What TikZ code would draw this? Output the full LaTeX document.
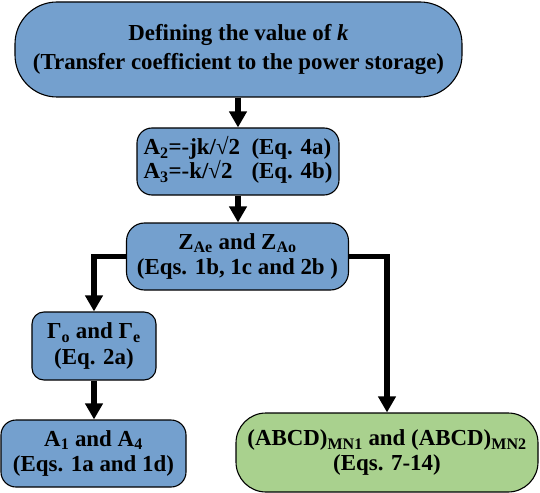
\documentclass[tikz,border=0pt]{standalone}
\usepackage{fontspec}
\setmainfont{Liberation Serif}
\usetikzlibrary{arrows.meta}
\definecolor{boxblue}{RGB}{116,160,206}
\definecolor{boxgreen}{RGB}{169,209,142}
\tikzset{
  box/.style={draw=black, line width=1.1bp, fill=boxblue, inner sep=0pt,
    align=center, font=\fontsize{23}{26}\selectfont\bfseries},
  greenbox/.style={box, fill=boxgreen},
  arr/.style={line width=5.5bp, line join=miter, -{Triangle[width=17bp,length=16bp]}}
}
\begin{document}
\begin{tikzpicture}[x=1bp, y=-1bp]
\useasboundingbox (0,0) rectangle (540,493);

% boxes
\node[box, minimum width=447bp, minimum height=95bp, rounded corners=42bp,
      font=\fontsize{23}{29}\selectfont\bfseries] (top) at (238.5,49.5)
  {Defining the value of \textit{k}\\(Transfer coefficient to the power storage)};
\node[box, minimum width=202bp, minimum height=67bp, rounded corners=15bp] (amp) at (238,161.5)
  {\begin{tabular}{@{}l@{\hspace{0.5em}}l@{}}
   A\textsubscript{2}=-jk/√2 & (Eq. 4a)\\[-2.5pt]
   A\textsubscript{3}=-k/√2 & (Eq. 4b)
   \end{tabular}};
\node[box, minimum width=222bp, minimum height=67bp, rounded corners=18bp] (imp) at (237.5,256.5)
  {Z\textsubscript{Ae} and Z\textsubscript{Ao}\\(Eqs. 1b, 1c and 2b )};
\node[box, minimum width=124bp, minimum height=68bp, rounded corners=12bp] (refl) at (94,346)
  {Γ\textsubscript{o} and Γ\textsubscript{e}\\(Eq. 2a)};
\node[box, minimum width=185bp, minimum height=67bp, rounded corners=15bp] (aone) at (93.5,453.5)
  {A\textsubscript{1} and A\textsubscript{4}\\(Eqs. 1a and 1d)};
\node[greenbox, minimum width=302bp, minimum height=79bp, rounded corners=30bp,
      font=\fontsize{23}{25}\selectfont\bfseries] (abcd) at (387,452.5)
  {(ABCD)\textsubscript{MN1} and (ABCD)\textsubscript{MN2}\\(Eqs. 7-14)};

% connectors
\draw[arr] (top.south -| amp.north) -- (amp.north);
\draw[arr] (amp.south) -- (amp.south |- imp.north);
\draw[arr] (imp.west) -| (refl.north);
\draw[arr] (imp.east) -| (abcd.north);
\draw[arr] (refl.south) -- (refl.south |- aone.north);
\end{tikzpicture}
\end{document}
